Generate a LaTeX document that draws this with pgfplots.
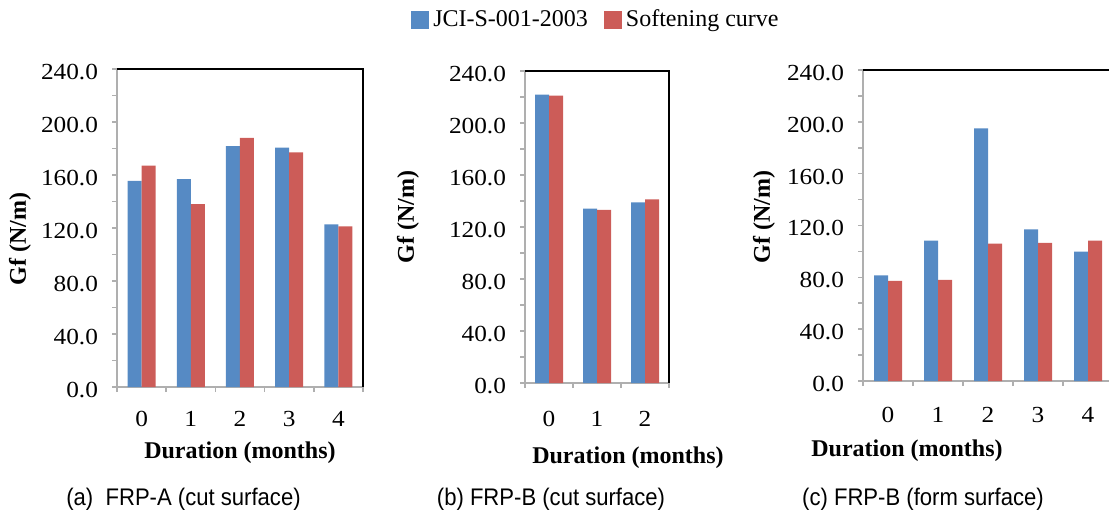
\documentclass[border=0pt]{standalone}
\usepackage{pgfplots}
\pgfplotsset{compat=1.18}
\usepackage{fontspec}
\setmainfont{Liberation Serif}
\newfontfamily\tickfont{Liberation Serif}[FakeStretch=1.1]
\newfontfamily\capfont{Liberation Sans}[FakeStretch=0.92]
\definecolor{barblue}{RGB}{86,138,196}
\definecolor{barred}{RGB}{204,92,88}
\definecolor{axgray}{RGB}{175,175,175}

\pgfplotsset{
  gfstyle/.style={
    scale only axis, anchor=south west, clip=false,
    ybar=0pt, bar width=7pt,
    ymin=0, ymax=240, ytick={0,40,...,240}, minor y tick num=1,
    yticklabels={0.0,40.0,80.0,120.0,160.0,200.0,240.0},
    tick align=outside, tick pos=left,
    axis line style={axgray, line width=0.8pt},
    every tick/.style={axgray, line width=0.8pt},
    major tick length=2.5pt, minor tick length=2.5pt,
    major x tick style={draw=none},
    y tick label style={font=\tickfont\fontsize{11.5}{14}\selectfont, xshift=-3.5pt, yshift=-1.5pt},
    x tick label style={font=\tickfont\fontsize{11.5}{14}\selectfont},
    label style={font=\bfseries\fontsize{12}{14}\selectfont},
    ylabel={Gf (N/m)}, xlabel={Duration (months)},
  },
}

\pgfplotstableread{
x blue red
0 155.5 167.1
1 156.8 138.1
2 181.7 188.0
3 180.7 177.0
4 122.8 121.3
}\dataA
\pgfplotstableread{
x blue red
0 221.8 221.1
1 134.1 133.1
2 138.9 141.2
}\dataB
\pgfplotstableread{
x blue red
0 81.6 77.3
1 108.4 78.0
2 195.0 106.1
3 117.0 106.5
4 99.9 108.4
}\dataC

\begin{document}
\begin{tikzpicture}
\path[use as bounding box] (0,0) rectangle (554.5pt,-259pt);

% Panel A
\begin{axis}[gfstyle, at={(58.5pt,-193.5pt)}, width=123pt, height=159pt,
  xmin=-0.5, xmax=4.5, xtick={0,...,4}, xticklabels={0,1,2,3,4}, minor xtick={-0.5,0.5,...,4.5},
  x tick label style={yshift=-6pt},
  ylabel style={at={(axis description cs:-0.394,0.465)}, anchor=center},
  xlabel style={at={(axis description cs:0.5,-0.207)}, anchor=center},
  legend columns=2,
  legend style={at={(axis description cs:1.951,1.154)}, anchor=center, draw=none, fill=none,
    font=\fontsize{12}{14}\selectfont, /tikz/every even column/.append style={column sep=6pt}},
  legend image code/.code={\fill[#1,draw=none] (0pt,-4.5pt) rectangle (9pt,4.5pt);},
]
\addplot[fill=barblue, draw=none] table[x=x, y=blue] {\dataA};
\addplot[fill=barred, draw=none] table[x=x, y=red] {\dataA};
\legend{JCI-S-001-2003, Softening curve}
\draw[black, line width=0.9pt] (rel axis cs:0,1) -- (rel axis cs:1,1) -- (rel axis cs:1,0);
\end{axis}

% Panel B
\begin{axis}[gfstyle, at={(262.5pt,-191.5pt)}, width=72pt, height=156pt,
  xmin=-0.5, xmax=2.5, xtick={0,...,2}, xticklabels={0,1,2}, minor xtick={-0.5,0.5,...,2.5},
  x tick label style={yshift=-8pt},
  ylabel style={at={(axis description cs:-0.8125,0.532)}, anchor=center},
  xlabel style={at={(axis description cs:0.715,-0.241)}, anchor=center},
]
\addplot[fill=barblue, draw=none] table[x=x, y=blue] {\dataB};
\addplot[fill=barred, draw=none] table[x=x, y=red] {\dataB};
\draw[black, line width=0.9pt] (rel axis cs:0,1) -- (rel axis cs:1,1) -- (rel axis cs:1,0);
\end{axis}

% Panel C
\begin{axis}[gfstyle, at={(431.5pt,-190.5pt)}, width=125pt, height=155.5pt,
  xmin=-0.5, xmax=4.5, xtick={0,...,4}, xticklabels={0,1,2,3,4}, minor xtick={-0.5,0.5,...,4.5},
  x tick label style={yshift=-7pt},
  ylabel style={at={(axis description cs:-0.396,0.527)}, anchor=center},
  xlabel style={at={(axis description cs:0.176,-0.225)}, anchor=center},
]
\addplot[fill=barblue, draw=none] table[x=x, y=blue] {\dataC};
\addplot[fill=barred, draw=none] table[x=x, y=red] {\dataC};
\draw[black, line width=0.9pt] (rel axis cs:0,1) -- (rel axis cs:1,1) -- (rel axis cs:1,0);
\end{axis}

\node[font=\capfont\fontsize{12}{14}\selectfont] at (91.75pt,-249.5pt) {(a)\ \ FRP-A (cut surface)};
\node[font=\capfont\fontsize{12}{14}\selectfont] at (275.5pt,-249.5pt) {(b) FRP-B (cut surface)};
\node[font=\capfont\fontsize{12}{14}\selectfont] at (461.5pt,-249.5pt) {(c) FRP-B (form surface)};
\end{tikzpicture}
\end{document}
